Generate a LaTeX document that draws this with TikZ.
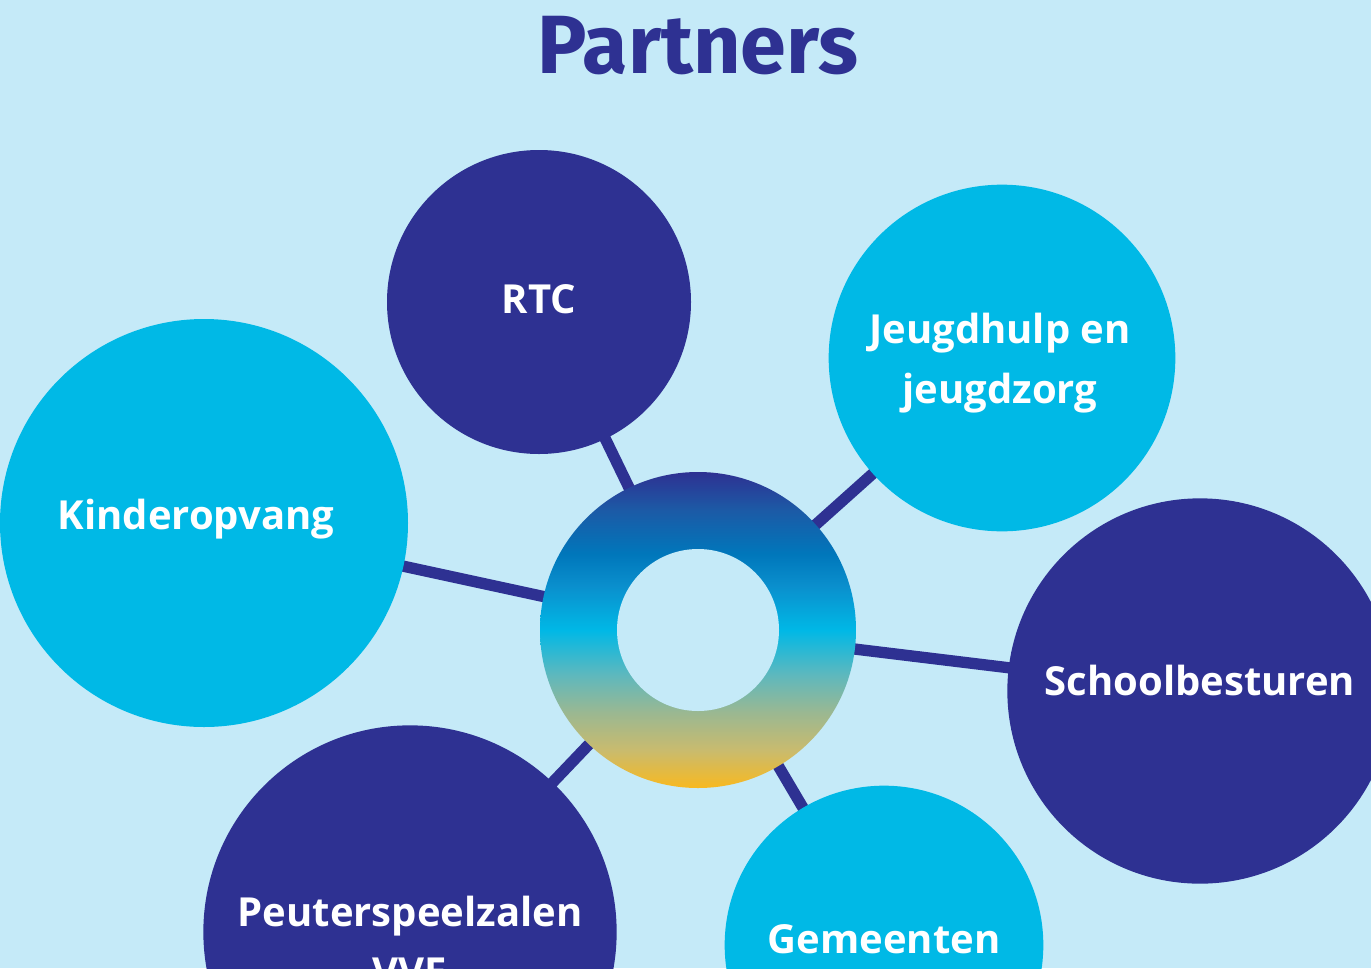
\documentclass[tikz,border=0pt]{standalone}
\usepackage{fontspec}
\setmainfont{Open Sans}
\newfontfamily\titlefont{Fira Sans}
\usepackage{xcolor}

\definecolor{skybg}{RGB}{197,234,248}
\definecolor{navyblue}{RGB}{46,49,146}
\definecolor{cyanblue}{RGB}{0,185,230}

\pgfdeclareverticalshading{hubgrad}{100bp}{%
  color(0bp)=(rgb,255:red,248;green,185;blue,32);
  color(25bp)=(rgb,255:red,248;green,185;blue,32);
  color(31bp)=(rgb,255:red,201;green,187;blue,110);
  color(37bp)=(rgb,255:red,154;green,184;blue,146);
  color(43bp)=(rgb,255:red,93;green,184;blue,190);
  color(50bp)=(rgb,255:red,0;green,184;blue,230);
  color(57bp)=(rgb,255:red,10;green,143;blue,205);
  color(62bp)=(rgb,255:red,0;green,119;blue,187);
  color(69bp)=(rgb,255:red,28;green,90;blue,166);
  color(75bp)=(rgb,255:red,46;green,49;blue,146);
  color(100bp)=(rgb,255:red,46;green,49;blue,146)}

\tikzset{
  bubble/.style={circle, inner sep=0pt},
  darkbubble/.style={bubble, fill=navyblue},
  lightbubble/.style={bubble, fill=cyanblue},
  tag/.style={text=white, font=\bfseries\fontsize{30}{45}\selectfont, align=center, inner sep=0pt},
  link/.style={draw=navyblue, line width=8.5pt}
}

\begin{document}
\begin{tikzpicture}[x=0.75pt,y=0.75pt,yscale=-1,xscale=1]
\useasboundingbox (0,0) rectangle (1371,968);
\clip (0,0) rectangle (1371,968);
\fill[skybg] (0,0) rectangle (1371,968);

% Centres
\coordinate (c-hub) at (698,630);
\coordinate (c-rtc) at (539,302);
\coordinate (c-jeugd) at (1002,358);
\coordinate (c-kinder) at (204,523);
\coordinate (c-school) at (1200,691);
\coordinate (c-peuter) at (410,932);
\coordinate (c-gemeente) at (884,945);

% Straight Lines
\draw[link] (c-hub) -- (c-rtc);
\draw[link] (c-hub) -- (c-jeugd);
\draw[link] (c-hub) -- (c-kinder);
\draw[link] (c-hub) -- (c-school);
\draw[link] (c-hub) -- (c-peuter);
\draw[link] (c-hub) -- (c-gemeente);

% Hub ring
\node[circle, minimum size=237pt, inner sep=0pt, shade, shading=hubgrad] (hub) at (c-hub) {};
\node[circle, minimum size=121.5pt, inner sep=0pt, fill=skybg] (hubhole) at (c-hub) {};

% Partner circles
\node[darkbubble, minimum size=228pt] (rtc) at (c-rtc) {};
\node[lightbubble, minimum size=260pt] (jeugd) at (c-jeugd) {};
\node[lightbubble, minimum size=306pt] (kinder) at (c-kinder) {};
\node[darkbubble, minimum size=289pt] (school) at (c-school) {};
\node[darkbubble, minimum size=310pt] (peuter) at (c-peuter) {};
\node[lightbubble, minimum size=239pt] (gemeente) at (c-gemeente) {};

% Text Node
\node[tag] (rtc-text) at ([shift={(0,-3)}]rtc.center) {RTC};
% Text Node
\node[tag] (jeugd-text) at ([shift={(-2,5)}]jeugd.center) {Jeugdhulp en\\jeugdzorg};
% Text Node
\node[tag] (kinder-text) at ([shift={(-8,-4)}]kinder.center) {Kinderopvang};
% Text Node
\node[tag] (school-text) at ([shift={(0,-11)}]school.center) {Schoolbesturen};
% Text Node
\node[tag] (peuter-text) at ([shift={(0,9)}]peuter.center) {Peuterspeelzalen\\VVE};
% Text Node
\node[tag] (gemeente-text) at ([shift={(0,-6)}]gemeente.center) {Gemeenten};
% Text Node
\node[text=navyblue, font=\titlefont\bfseries\fontsize{62}{70}\selectfont] (title) at (698,46) {Partners};

\end{tikzpicture}
\end{document}
